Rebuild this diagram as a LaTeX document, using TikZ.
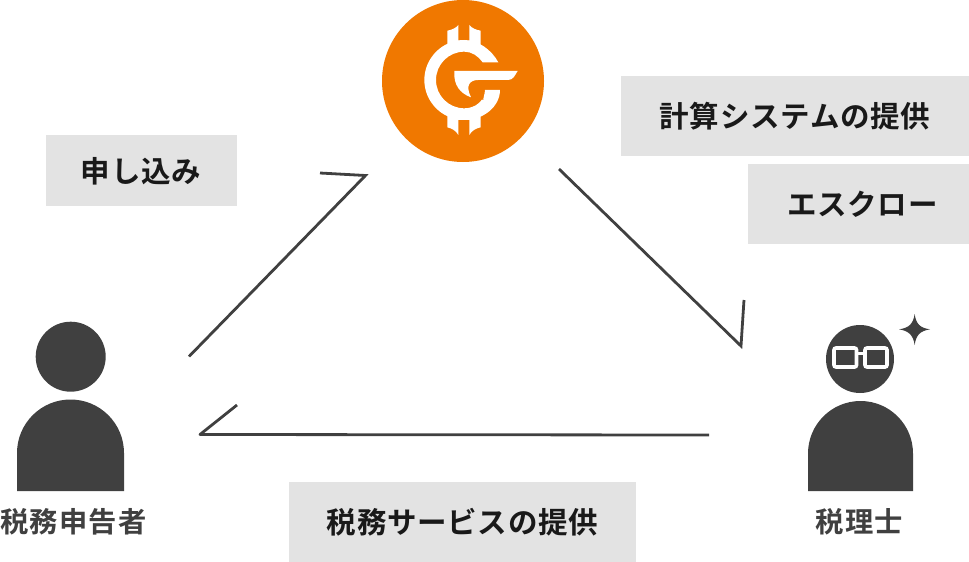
\documentclass[tikz,border=0pt]{standalone}
\usepackage{fontspec}
\newfontfamily\jpb[LetterSpace=2.5]{Noto Sans CJK JP Bold}
\newfontfamily\jpl[LetterSpace=4]{Noto Sans CJK JP Bold}
\definecolor{dk}{HTML}{404040}
\definecolor{boxg}{HTML}{E3E3E3}
\definecolor{org}{HTML}{F07800}
\tikzset{
  tag/.style={fill=boxg,draw=none,inner sep=0pt,font=\fontsize{29.5}{32}\selectfont\jpb,text=black!90,anchor=center},
  who/.style={inner sep=0pt,font=\fontsize{28.3}{30}\selectfont\jpl,text=dk,anchor=center},
  link/.style={draw=dk,line width=2.8pt,line join=miter}
}
\begin{document}
\begin{tikzpicture}[x=1pt,y=-1pt]
\useasboundingbox (0,0) rectangle (969,562);
% tags
\node[tag,minimum width=191pt,minimum height=71pt] (apply) at (141.5,170.5) {};
\node[tag,minimum width=348pt,minimum height=80pt] (calc) at (795,116) {};
\node[tag,minimum width=221pt,minimum height=80pt] (escrow) at (858.5,204) {};
\node[tag,minimum width=347pt,minimum height=80pt] (serv) at (462.5,522) {};
\node[tag,fill=none] (applyT) at (141,171) {申し込み};
\node[tag,fill=none] (calcT) at (795,116) {計算システムの提供};
\node[tag,fill=none] (escrowT) at (862.5,204) {エスクロー};
\node[tag,fill=none] (servT) at (462.5,522) {税務サービスの提供};
% labels
\node[who] (lbA) at (73.5,522) {税務申告者};
\node[who] (lbB) at (859.5,522) {税理士};
% logo
\fill[org] (463,81) circle (81);
\begin{scope}[shift={(370,0)},x=0.3333pt,y=-0.3333pt]
\fill[white] (385,187)
  .. controls (365,150) and (325,120) .. (283,120)
  .. controls (217,120) and (163,174) .. (163,240)
  .. controls (163,306) and (217,360) .. (283,360)
  .. controls (340,360) and (390,320) .. (390,270)
  -- (345,270)
  .. controls (345,300) and (318,325) .. (283,325)
  .. controls (236,325) and (198,287) .. (198,240)
  .. controls (198,193) and (236,155) .. (283,155)
  .. controls (305,155) and (325,168) .. (338,187) -- cycle;
\fill[white] (232,135) -- (232,92) .. controls (245,90) and (258,84) .. (265,75) -- (265,122) -- (298,122) -- (298,75)
  .. controls (305,84) and (318,90) .. (332,92) -- (332,135) -- cycle;
\fill[white] (232,345) -- (232,382) .. controls (245,385) and (258,392) .. (265,405) -- (265,360) -- (298,360) -- (298,405)
  .. controls (305,392) and (318,385) .. (332,382) -- (332,345) -- cycle;
\fill[org] (255,213) -- (255,262) -- (340,300) -- (345,241) -- cycle;
\fill[white] (253,213) -- (443,213) .. controls (435,225) and (430,240) .. (415,240)
  -- (325,240) .. controls (300,240) and (285,255) .. (303,292)
  .. controls (270,280) and (250,255) .. (253,213) -- cycle;
\end{scope}
% left person
\fill[dk] (70.7,356.7) circle (35);
\fill[dk] (17,491) -- (17,453) arc[start angle=180,end angle=0,x radius=53.5,y radius=-53.5] -- (124,491) -- cycle;
% right person
\fill[dk] (860,359) circle (34);
\fill[dk] (808,491) -- (808,453.5) arc[start angle=180,end angle=0,x radius=52.5,y radius=-52.5] -- (913,491) -- cycle;
\draw[white,line width=3.6pt,rounded corners=2pt] (834,348) rectangle (856.5,367);
\draw[white,line width=3.6pt,rounded corners=2pt] (865,348) rectangle (887,367);
\draw[white,line width=3.6pt] (856.5,353.5) -- (865,353.5);
\fill[dk] (914.7,314) .. controls (916,324) and (920,328) .. (930,329.3) .. controls (920,331) and (916,335) .. (914.7,345)
  .. controls (913,335) and (909,331) .. (899,329.3) .. controls (909,328) and (913,324) .. (914.7,314) -- cycle;
% connectors
\coordinate (a0) at (189,356.5);
\coordinate (a1) at (365.5,175.5);
\coordinate (a2) at (320,173);
\coordinate (b0) at (559,169);
\coordinate (b1) at (741,346);
\coordinate (b2) at (744,300);
\coordinate (c0) at (709,435);
\coordinate (c1) at (200,434.5);
\coordinate (c2) at (237,405);
\draw[link] (a0) -- (a1) -- (a2);
\draw[link] (b0) -- (b1) -- (b2);
\draw[link,line join=round] (c0) -- (c1) -- (c2);
\end{tikzpicture}
\end{document}
